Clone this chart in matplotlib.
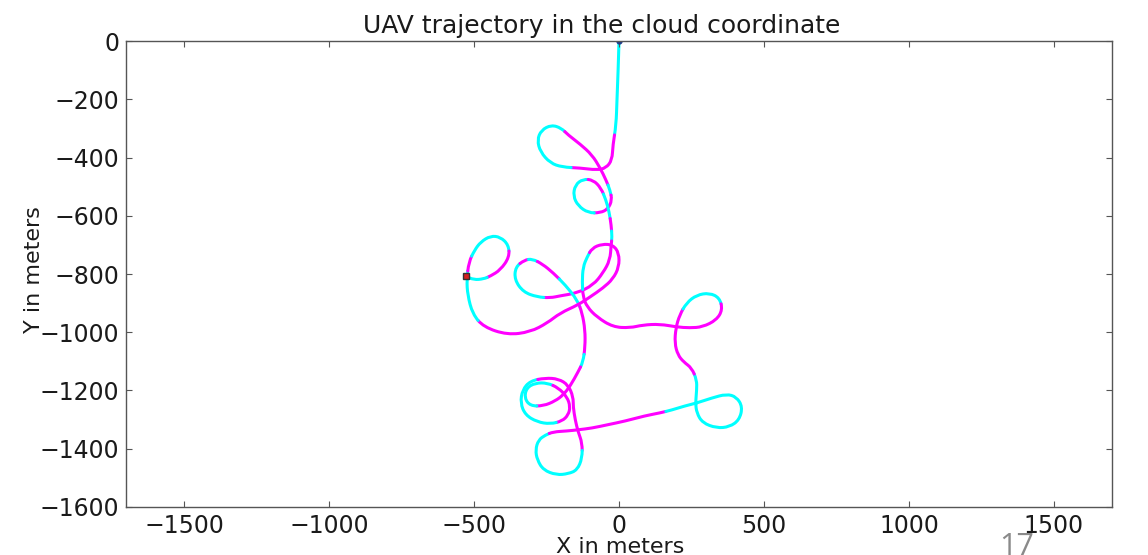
import numpy as np
import matplotlib
matplotlib.use("Agg")
import matplotlib.pyplot as plt
from matplotlib.path import Path
from matplotlib.patches import PathPatch

# UAV path in metres (x east, y north), start at the origin, end at the red square
traj_x = [0, -3, -7, -10, -21, -24, -45, -76, -134, -196,
          -237, -271, -282, -268, -233, -199, -175, -134, -93, -65,
          -45, -31, -24, -38, -65, -106, -141, -158, -151, -124,
          -89, -62, -45, -34, -27, -24, -27, -31, -55, -89,
          -144, -203, -237, -282, -330, -360, -357, -326, -299, -264,
          -227, -185, -144, -127, -117, -117, -124, -141, -168, -192,
          -220, -261, -306, -326, -319, -288, -247, -209, -179, -168,
          -175, -196, -237, -282, -323, -340, -333, -306, -254, -209,
          -175, -158, -158, -151, -141, -127, -127, -144, -175, -216,
          -261, -282, -288, -278, -254, -227, -179, -141, -93, -41,
          21, 89, 141, 182, 227, 268, 319, 371, 405, 426,
          415, 381, 336, 288, 268, 264, 268, 268, 251, 223,
          203, 192, 196, 209, 233, 268, 312, 347, 357, 336,
          288, 244, 199, 141, 82, 38, -21, -76, -110, -124,
          -127, -124, -110, -93, -58, -21, 0, 0, -21, -55,
          -100, -141, -203, -247, -306, -385, -467, -505, -522, -525,
          -518, -498, -477, -443, -409, -381, -378, -409, -443, -467,
          -501, -529]
traj_y = [0, -100, -203, -288, -357, -409, -436, -443, -436, -433,
          -419, -381, -340, -306, -288, -299, -323, -354, -391, -436,
          -477, -512, -546, -577, -590, -590, -566, -532, -494, -474,
          -477, -505, -546, -587, -632, -673, -700, -752, -796, -838,
          -865, -875, -882, -879, -862, -820, -776, -752, -748, -766,
          -796, -838, -889, -934, -992, -1050, -1102, -1136, -1184, -1215,
          -1236, -1253, -1253, -1226, -1191, -1174, -1174, -1191, -1222, -1256,
          -1284, -1305, -1315, -1308, -1284, -1243, -1198, -1167, -1157, -1160,
          -1181, -1222, -1256, -1301, -1342, -1380, -1432, -1473, -1486, -1490,
          -1473, -1438, -1404, -1370, -1353, -1342, -1339, -1335, -1329, -1318,
          -1305, -1287, -1277, -1267, -1253, -1243, -1226, -1212, -1222, -1256,
          -1301, -1325, -1329, -1311, -1277, -1243, -1198, -1164, -1123, -1102,
          -1078, -1037, -985, -941, -899, -872, -865, -882, -923, -958,
          -982, -985, -982, -972, -975, -985, -982, -948, -913, -879,
          -827, -776, -742, -711, -697, -700, -728, -776, -817, -848,
          -879, -906, -934, -968, -999, -1009, -982, -937, -872, -820,
          -759, -718, -690, -669, -673, -700, -742, -786, -807, -817,
          -820, -807]

# segment state: C = cyan, M = magenta (one letter per segment)
seg_state = ("CCCCMMMMMC" "CCCCCCMMMM" "MCMMMCCCCC" "MMCCMCMMMM"
             "MMMCCCCMCM" "MCCMMMCMMM" "MMCCCCCMMM" "MMCCCCCCMM"
             "MMMMMMCCCC" "CCCCCMMMMM" "MMMCCCCCCC" "CCCCCCCCMM"
             "MMMMCCCCMM" "MMMMMMMMMM" "CCCMMMMMMM" "MMMMMMMCCC"
             "MCCCCCMMMCC")

x_ticks = [-1500, -1000, -500, 0, 500, 1000, 1500]
y_ticks = [0, -200, -400, -600, -800, -1000, -1200, -1400, -1600]

fig = plt.figure(figsize=(11.48, 5.55), dpi=100)
ax = fig.add_axes([0.1098, 0.0865, 0.8588, 0.8396])

cmap = {"C": "#00ffff", "M": "#ff00ff"}
pts = np.column_stack([traj_x, traj_y]).astype(float)
n = len(pts)
mids = (pts[:-1] + pts[1:]) / 2

# smooth stroke: quadratic bezier pieces with the read points as control points
pieces = [(seg_state[0], [mids[0]], [Path.LINETO])]
for i in range(1, n - 1):
    pieces.append((seg_state[i], [pts[i], mids[i]], [Path.CURVE3, Path.CURVE3]))
pieces.append((seg_state[-1], [pts[-1]], [Path.LINETO]))


def stroke(verts, codes, state):
    ax.add_patch(PathPatch(Path(verts, codes), fill=False, edgecolor=cmap[state],
                           lw=2.2, capstyle="round", joinstyle="round"))


verts, codes, cur = [pts[0]], [Path.MOVETO], pieces[0][0]
for state, v, c in pieces:
    if state != cur:
        stroke(verts, codes, cur)
        verts, codes, cur = [verts[-1]], [Path.MOVETO], state
    verts = verts + v
    codes = codes + c
stroke(verts, codes, cur)

ax.plot(traj_x[0], traj_y[0], "o", color="#1f3a8a", markersize=3.5)
ax.plot(traj_x[-1], traj_y[-1], "s", color="#d62020", markeredgecolor="#333333",
        markersize=5)

ax.set_xlim(-1700, 1700)
ax.set_ylim(-1600, 0)
ax.set_xticks(x_ticks)
ax.set_yticks(y_ticks)
ax.tick_params(direction="in", top=True, right=True, length=4, width=0.8,
               labelsize=17, pad=5, colors="#555555", labelcolor="#1a1a1a")
for s in ax.spines.values():
    s.set_color("#555555")
    s.set_linewidth(1.0)

fig.text(602 / 1148, 1 - 33 / 555, "UAV trajectory in the cloud coordinate",
         fontsize=18, ha="center", va="baseline", color="#1a1a1a")
fig.text(620 / 1148, 1 - 537 / 555, "X in meters", fontsize=16, ha="center",
         va="top", color="#1a1a1a")
fig.text(34 / 1148, 1 - 270 / 555, "Y in meters", fontsize=16, ha="center",
         va="center", rotation=90, color="#1a1a1a")
fig.text(1017 / 1148, 1 - 532 / 555, "17", fontsize=22, ha="center", va="top",
         color="#8a8a8a", family="Open Sans")

fig.savefig("out.png", dpi=100)
